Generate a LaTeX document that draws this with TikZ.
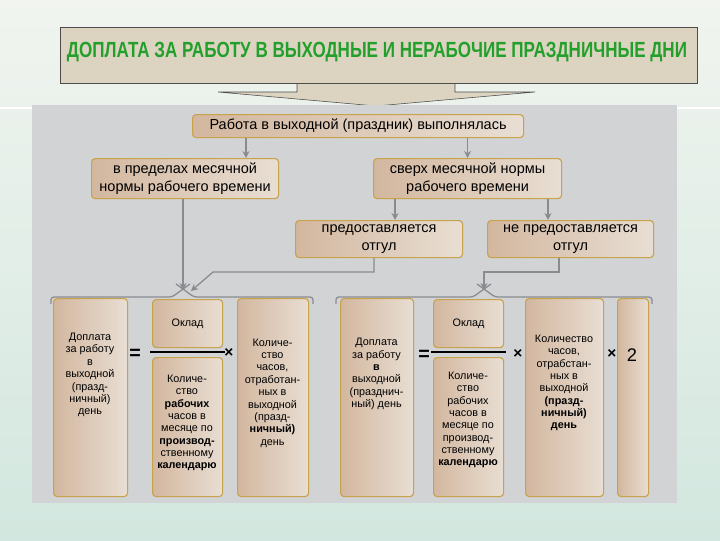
\documentclass[tikz,border=0pt]{standalone}
\usepackage{fontspec}
\setmainfont{Liberation Sans}
\usetikzlibrary{arrows.meta, calc}

\definecolor{boxfillL}{HTML}{D3B79F}
\definecolor{boxfillR}{HTML}{E8DED3}
\definecolor{boxline}{HTML}{C9A24C}
\definecolor{panelgray}{HTML}{D2D3D5}
\definecolor{linkgray}{HTML}{8A8B90}
\definecolor{titlegreen}{HTML}{22A02B}
\definecolor{bannerfill}{HTML}{DDD3C1}
\definecolor{bgtop}{HTML}{F1F4EF}
\definecolor{bgbottom}{HTML}{D2E7DF}
\def\pu{0.025cm}

\begin{document}
\begin{tikzpicture}[x=0.025cm, y=-0.025cm,
    box/.style={draw=boxline, line width=0.8pt, rounded corners=2.5pt,
      left color=boxfillL, right color=boxfillR, inner sep=0pt, anchor=north west},
    lbl/.style={font=\fontsize{10.3}{12.5}\selectfont, align=center},
    cell/.style={font=\fontsize{7.7}{8.8}\selectfont, align=center, inner sep=0pt},
    op/.style={font=\fontsize{14}{14}\selectfont\bfseries, inner sep=0pt},
    link/.style={draw=linkgray, line width=0.9pt},
    arr/.style={link, -{Stealth[length=5pt, width=5pt]}},
    fracbar/.style={line width=1.5pt}]
  \useasboundingbox (0,0) rectangle (720,540);
  % Background
  \shade[top color=bgtop, bottom color=bgbottom] (0,0) rectangle (720,540);
  \draw[white, line width=1pt] (0,108) -- (720,108);
  % Title banner with arrow
  \draw[draw=black!70, fill=bannerfill] (297,80) -- (297,92) -- (218,92) -- (376,106)
    -- (535,92) -- (455,92) -- (455,80);
  \node[draw=black!70, fill=bannerfill, anchor=north west, minimum width=637*\pu,
    minimum height=56*\pu, inner sep=0pt] (banner) at (60,27) {};
  \node[text=titlegreen, font=\fontsize{12}{12}\selectfont\bfseries] (title) at (377,52)
    {\scalebox{1.01}[1.3]{ДОПЛАТА ЗА РАБОТУ В ВЫХОДНЫЕ И НЕРАБОЧИЕ ПРАЗДНИЧНЫЕ ДНИ}};
  % Gray panel
  \fill[panelgray] (32,105) rectangle (677,503);

  % Upper tree
  \node[box, lbl, minimum width=331*\pu, minimum height=23*\pu] (work) at (192,114)
    {Работа в выходной (праздник) выполнялась};
  \node[box, lbl, minimum width=187*\pu, minimum height=40*\pu] (within) at (91,158)
    {в пределах месячной\\нормы рабочего времени};
  \node[box, lbl, minimum width=188*\pu, minimum height=40*\pu] (over) at (373,158)
    {сверх месячной нормы\\рабочего времени};
  \node[box, lbl, minimum width=167*\pu, minimum height=37*\pu] (leave) at (295,220)
    {предоставляется\\отгул};
  \node[box, lbl, minimum width=166*\pu, minimum height=37*\pu] (noleave) at (487,220)
    {не предоставляется\\отгул};

  \coordinate (peakL) at (183,290);
  \coordinate (tipL) at (191,291);
  \coordinate (peakR) at (484,290);

  \draw[arr] (work.south -| 246,0) -- (within.north -| 246,0);
  \draw[arr] (work.south -| over.north) -- (over.north);
  \draw[arr] (over.south -| 395,0) -- (leave.north -| 395,0);
  \draw[arr] (over.south -| 548,0) -- (noleave.north -| 548,0);
  \draw[arr] (within.south -| peakL) -- (peakL);
  \draw[arr] (leave.south -| 374,0) |- (213,272) -- (tipL);
  \draw[arr] (noleave.south -| 559,0) |- (peakR |- 0,272) -- (peakR);

  % Braces
  \draw[link, rounded corners=2pt] (51,304) -- (51,297) -- (172,297) -- (190,284);
  \draw[link, rounded corners=2pt] (313,304) -- (313,297) -- (194,297) -- (176,284);
  \draw[link, rounded corners=2pt] (336,304) -- (336,297) -- (473,297) -- (491,284);
  \draw[link, rounded corners=2pt] (652,304) -- (652,297) -- (495,297) -- (477,284);

  % Left formula
  \node[box, minimum width=74*\pu, minimum height=198*\pu] (payL) at (53,298) {};
  \node[box, minimum width=70*\pu, minimum height=48*\pu] (okladL) at (152,299) {};
  \node[box, minimum width=70*\pu, minimum height=139*\pu] (hoursL) at (152,357) {};
  \node[box, minimum width=71*\pu, minimum height=198*\pu] (workedL) at (237,298) {};
  \node[cell] (payLtext) at (90,375)
    {Доплата\\за работу\\в\\выходной\\(празд-\\ничный)\\день};
  \node[cell] (okladLtext) at (okladL.center) {Оклад};
  \node[cell] (hoursLtext) at (187,423)
    {Количе-\\ство\\\textbf{рабочих}\\часов в\\месяце по\\\textbf{производ-}\\ственному\\\textbf{календарю}};
  \node[cell] (workedLtext) at (272.5,393)
    {Количе-\\ство\\часов,\\отработан-\\ных в\\выходной\\(празд-\\\textbf{ничный)}\\день};
  \node[op] (eqL) at (135,354) {=};
  \node[op, font=\fontsize{11}{11}\selectfont\bfseries] (timesL) at (229,353) {×};
  \draw[fracbar] ($(okladL.south west)+(-2,4)$) -- ($(okladL.south east)+(2,4)$);

  % Right formula
  \node[box, minimum width=73*\pu, minimum height=198*\pu] (payR) at (340,298) {};
  \node[box, minimum width=70*\pu, minimum height=48*\pu] (okladR) at (433,299) {};
  \node[box, minimum width=70*\pu, minimum height=139*\pu] (hoursR) at (433,357) {};
  \node[box, minimum width=78*\pu, minimum height=198*\pu] (workedR) at (525,298) {};
  \node[box, minimum width=31*\pu, minimum height=198*\pu] (twoR) at (617,298) {};
  \node[cell] (payRtext) at (376.5,374)
    {Доплата\\за работу\\\textbf{в}\\выходной\\(празднич-\\ный) день};
  \node[cell] (okladRtext) at (okladR.center) {Оклад};
  \node[cell] (hoursRtext) at (468,420)
    {Количе-\\ство\\рабочих\\часов в\\месяце по\\производ-\\ственному\\\textbf{календарю}};
  \node[cell] (workedRtext) at (564,383)
    {Количество\\часов,\\отрабстан-\\ных в\\выходной\\\textbf{(празд-}\\\textbf{ничный)}\\\textbf{день}};
  \node[op] (eqR) at (424,355) {=};
  \node[op, font=\fontsize{11}{11}\selectfont\bfseries] (timesR) at (518,354) {×};
  \node[op, font=\fontsize{11}{11}\selectfont\bfseries] (timesTwo) at (612,354) {×};
  \node[font=\fontsize{13}{13}\selectfont, inner sep=0pt] (two) at (632,355) {2};
  \draw[fracbar] ($(okladR.south west)+(-2,4)$) -- ($(okladR.south east)+(2,4)$);
\end{tikzpicture}
\end{document}
